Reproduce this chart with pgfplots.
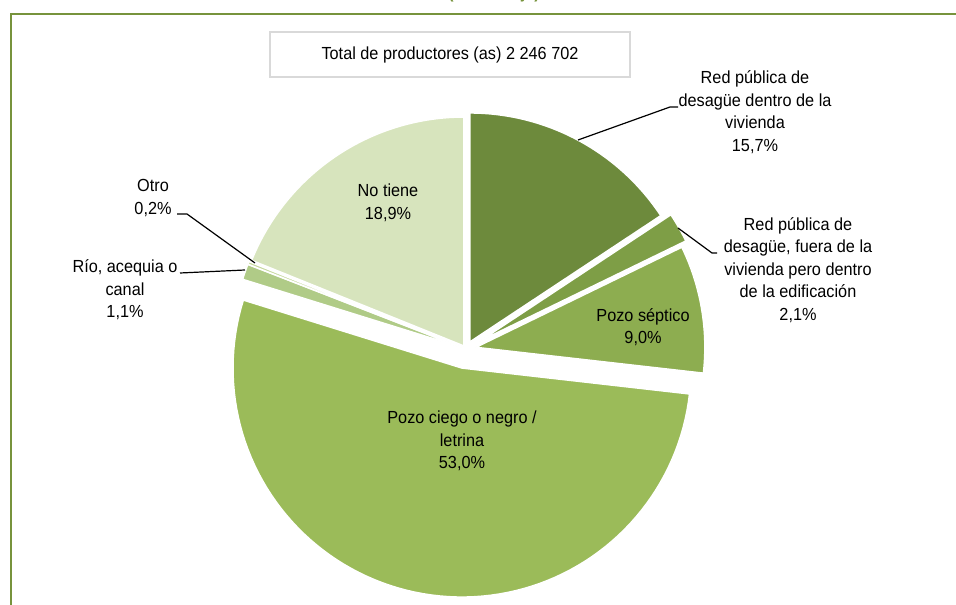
\documentclass[border=0pt]{standalone}
\usepackage{fontspec}
\setmainfont{Liberation Sans}[FakeStretch=0.93]
\usepackage{pgfplots}
\usepackage{pgfplotstable}
\pgfplotsset{compat=1.18}

% slice colours, clockwise from 12 o'clock
\definecolor{pie0}{HTML}{6D8A3C}
\definecolor{pie1}{HTML}{7E9E46}
\definecolor{pie2}{HTML}{8DAD50}
\definecolor{pie3}{HTML}{9BBB59}
\definecolor{pie4}{HTML}{B0CB87}
\definecolor{pie5}{HTML}{C4D79B}
\definecolor{pie6}{HTML}{D7E4BD}
\definecolor{frame}{HTML}{77933C}
\definecolor{boxline}{HTML}{D9D9D9}

% share (%) and explode offset (px)
\pgfplotstableread{
slice pct off
1 15.7 8
2 2.1 16
3 9.0 10
4 53.0 19.5
5 1.1 5
6 0.2 5
7 18.9 3.6
}\piedata

\newcommand\lbl{\fontsize{17.5}{22.5}\selectfont}

\begin{document}
\begin{tikzpicture}
\begin{axis}[
    scale only axis, width=956pt, height=605pt,
    xmin=0, xmax=956, ymin=0, ymax=605,
    axis lines=none, ticks=none,
    clip=false,
]
    % frame
    \addplot[frame, line width=1.5pt] coordinates {(11,0) (11,591) (956,591)};

    % wedges
    \def\angA{90}
    \pgfplotsforeachungrouped \i in {0,...,6}{
        \pgfplotstablegetelem{\i}{pct}\of\piedata \let\p\pgfplotsretval
        \pgfplotstablegetelem{\i}{off}\of\piedata \let\d\pgfplotsretval
        \pgfmathsetmacro\angB{\angA-3.6*\p}
        \pgfmathsetmacro\angM{(\angA+\angB)/2}
        \pgfmathsetmacro\cx{466+\d*cos(\angM)}
        \pgfmathsetmacro\cy{256+\d*sin(\angM)}
        \edef\temp{\noexpand\addplot[fill=pie\i, draw=white, line width=1.5pt,
            line join=round, domain=\angB:\angA, samples=91]
            ({\cx+229*cos(x)},{\cy+229*sin(x)}) -- (axis cs:\cx,\cy) -- cycle;}
        \temp
        \let\angA\angB
    }

    % leader lines
    \addplot[black, line width=1.2pt] coordinates {(578,465) (670,498) (678,498)};
    \addplot[black, line width=1.2pt] coordinates {(678,377) (712,352) (717,352)};
    \addplot[black, line width=1.2pt] coordinates {(255,342) (187,391) (177,391)};
    \addplot[black, line width=1.2pt] coordinates {(245,335) (180,332)};

    % total box
    \node[draw=boxline, line width=1.5pt, fill=white, minimum width=360pt,
          minimum height=45pt, font=\lbl] at (axis cs:450,550.5)
          {Total de productores (as) 2 246 702};

    % title, cut at the top
    \node[text=frame, font=\bfseries\fontsize{17}{20}\selectfont, anchor=base]
          at (axis cs:494,606) {(Porcentaje)};

    % labels
    \node[align=center, font=\lbl] at (axis cs:755,493)
        {Red pública de\\desagüe dentro de la\\vivienda\\15,7\%};
    \node[align=center, font=\lbl] at (axis cs:798,335)
        {Red pública de\\desagüe, fuera de la\\vivienda pero dentro\\de la edificación\\2,1\%};
    \node[align=center, font=\lbl] at (axis cs:643,278) {Pozo séptico\\9,0\%};
    \node[align=center, font=\lbl] at (axis cs:388,402) {No tiene\\18,9\%};
    \node[align=center, font=\lbl] at (axis cs:462,164) {Pozo ciego o negro /\\letrina\\53,0\%};
    \node[align=center, font=\lbl] at (axis cs:153,407) {Otro\\0,2\%};
    \node[align=center, font=\lbl] at (axis cs:125,315) {Río, acequia o\\canal\\1,1\%};
\end{axis}
\pgfresetboundingbox
\path[use as bounding box] (0,0) rectangle (956pt,605pt);
\end{tikzpicture}
\end{document}
